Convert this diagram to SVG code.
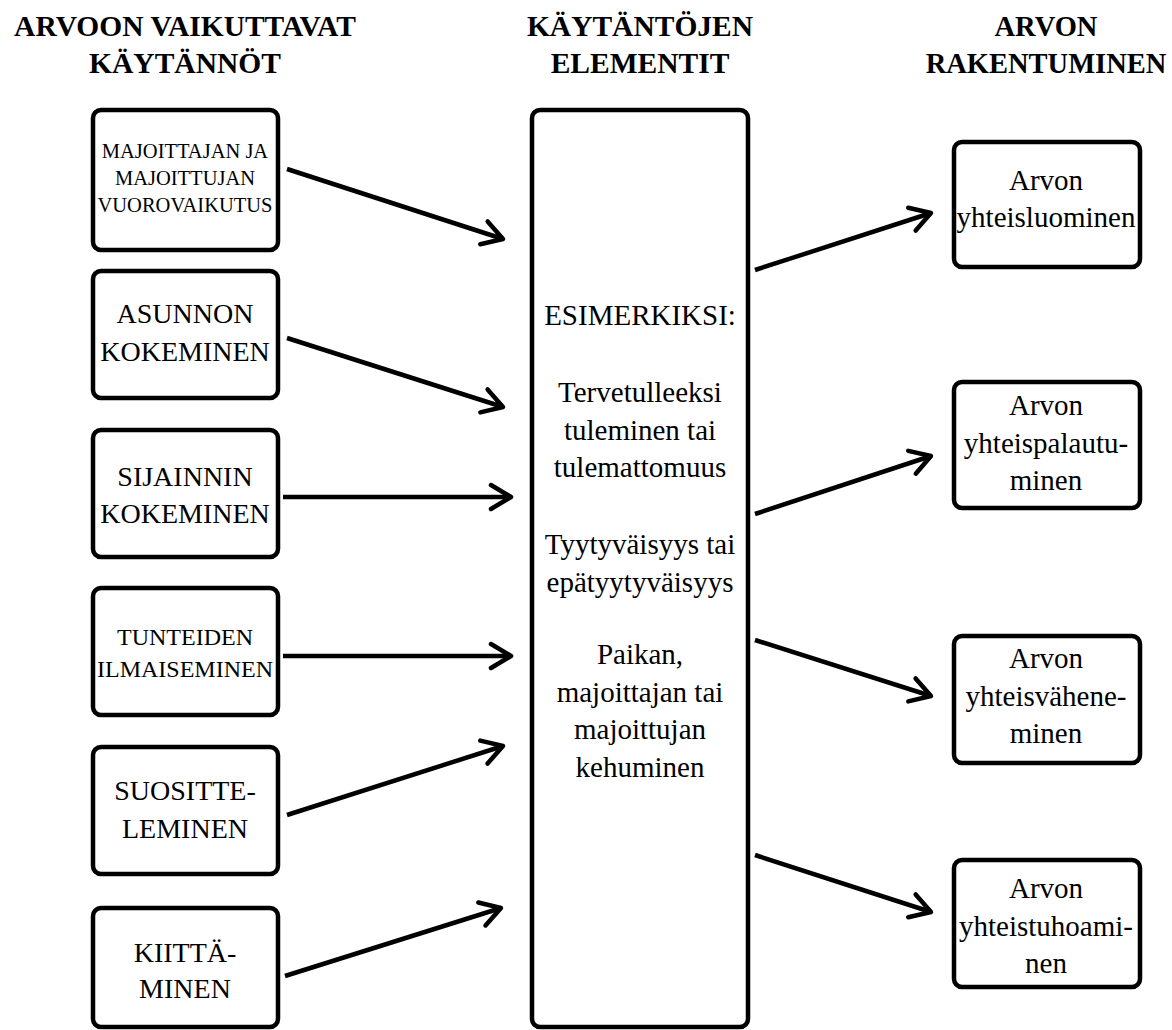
<svg xmlns="http://www.w3.org/2000/svg" width="1172" height="1030" viewBox="0 0 1172 1030">
<style>
.box{fill:#fff;stroke:#000;stroke-width:4.5}
.t{font-family:"Liberation Serif","Times New Roman",serif;fill:#000;text-anchor:middle}
.h{font-size:29.5px;font-weight:bold}
.hr{font-size:28.5px;font-weight:bold}
.s20{font-size:20.5px}
.s24{font-size:24px}
.s28{font-size:28px}
.s29{font-size:29px}
.c{fill:none;stroke:#000;stroke-width:4.5}
</style>
<defs>
<marker id="ah" markerUnits="userSpaceOnUse" viewBox="-26 -16 30 32" markerWidth="30" markerHeight="32" refX="0" refY="0" orient="auto" overflow="visible">
<path d="M-20,-12 L0,0 L-20,12" fill="none" stroke="#000" stroke-width="4.5" stroke-linecap="round" stroke-linejoin="round"/>
</marker>
</defs>
<rect width="1172" height="1030" fill="#fff"/>
<g id="headers">
<text class="t h" x="185" y="36">ARVOON VAIKUTTAVAT</text>
<text class="t h" x="185" y="73">KÄYTÄNNÖT</text>
<text class="t h" x="640" y="36">KÄYTÄNTÖJEN</text>
<text class="t h" x="640" y="73">ELEMENTIT</text>
<text class="t hr" x="1046" y="36">ARVON</text>
<text class="t hr" x="1046" y="73">RAKENTUMINEN</text>
</g>
<g id="connectors">
<line class="c" x1="287" y1="169" x2="503" y2="239" marker-end="url(#ah)"/>
<line class="c" x1="287" y1="338" x2="503" y2="407" marker-end="url(#ah)"/>
<line class="c" x1="283" y1="497" x2="511" y2="497" marker-end="url(#ah)"/>
<line class="c" x1="283" y1="656" x2="511" y2="656" marker-end="url(#ah)"/>
<line class="c" x1="287" y1="815" x2="503" y2="746" marker-end="url(#ah)"/>
<line class="c" x1="285" y1="976" x2="501" y2="908" marker-end="url(#ah)"/>
<line class="c" x1="755" y1="270" x2="931" y2="213" marker-end="url(#ah)"/>
<line class="c" x1="755" y1="514" x2="931" y2="456" marker-end="url(#ah)"/>
<line class="c" x1="755" y1="640" x2="931" y2="696" marker-end="url(#ah)"/>
<line class="c" x1="755" y1="855" x2="931" y2="912" marker-end="url(#ah)"/>
</g>
<g id="n-vuorovaikutus">
<rect class="box" x="93" y="110" width="185" height="140" rx="8"/>
<text class="t s20" x="185" y="158">MAJOITTAJAN JA</text>
<text class="t s20" x="185" y="185">MAJOITTUJAN</text>
<text class="t s20" x="185" y="212">VUOROVAIKUTUS</text>
</g>
<g id="n-asunnon">
<rect class="box" x="93" y="271" width="185" height="127" rx="8"/>
<text class="t s28" x="185" y="323">ASUNNON</text>
<text class="t s28" x="185" y="361">KOKEMINEN</text>
</g>
<g id="n-sijainnin">
<rect class="box" x="93" y="430" width="185" height="127" rx="8"/>
<text class="t s28" x="185" y="486">SIJAINNIN</text>
<text class="t s28" x="185" y="523">KOKEMINEN</text>
</g>
<g id="n-tunteiden">
<rect class="box" x="93" y="588" width="185" height="127" rx="8"/>
<text class="t s24" x="185" y="645">TUNTEIDEN</text>
<text class="t s24" x="185" y="677">ILMAISEMINEN</text>
</g>
<g id="n-suosittelu">
<rect class="box" x="93" y="747" width="185" height="127" rx="8"/>
<text class="t s28" x="185" y="800">SUOSITTE-</text>
<text class="t s28" x="185" y="838">LEMINEN</text>
</g>
<g id="n-kiittaminen">
<rect class="box" x="93" y="908" width="185" height="119" rx="8"/>
<text class="t s28" x="185" y="962">KIITTÄ-</text>
<text class="t s28" x="185" y="998">MINEN</text>
</g>
<g id="n-elementit">
<rect class="box" x="532" y="110" width="216" height="917" rx="8"/>
<text class="t s29" x="640" y="325">ESIMERKIKSI:</text>
<text class="t s29" x="640" y="402">Tervetulleeksi</text>
<text class="t s29" x="640" y="440">tuleminen tai</text>
<text class="t s29" x="640" y="477">tulemattomuus</text>
<text class="t s29" x="640" y="554">Tyytyväisyys tai</text>
<text class="t s29" x="640" y="592">epätyytyväisyys</text>
<text class="t s29" x="640" y="664">Paikan,</text>
<text class="t s29" x="640" y="702">majoittajan tai</text>
<text class="t s29" x="640" y="739">majoittujan</text>
<text class="t s29" x="640" y="777">kehuminen</text>
</g>
<g id="n-yhteisluominen">
<rect class="box" x="954" y="142" width="186" height="125" rx="8"/>
<text class="t s29" x="1046" y="190">Arvon</text>
<text class="t s29" x="1046" y="227">yhteisluominen</text>
</g>
<g id="n-yhteispalautuminen">
<rect class="box" x="954" y="382" width="186" height="126" rx="8"/>
<text class="t s29" x="1046" y="415">Arvon</text>
<text class="t s29" x="1046" y="453">yhteispalautu-</text>
<text class="t s29" x="1046" y="490">minen</text>
</g>
<g id="n-yhteisvaheneminen">
<rect class="box" x="954" y="636" width="186" height="127" rx="8"/>
<text class="t s29" x="1046" y="668">Arvon</text>
<text class="t s29" x="1046" y="706">yhteisvähene-</text>
<text class="t s29" x="1046" y="743">minen</text>
</g>
<g id="n-yhteistuhoaminen">
<rect class="box" x="954" y="860" width="186" height="127" rx="8"/>
<text class="t s29" x="1046" y="898">Arvon</text>
<text class="t s29" x="1046" y="936">yhteistuhoami-</text>
<text class="t s29" x="1046" y="973">nen</text>
</g>
</svg>
